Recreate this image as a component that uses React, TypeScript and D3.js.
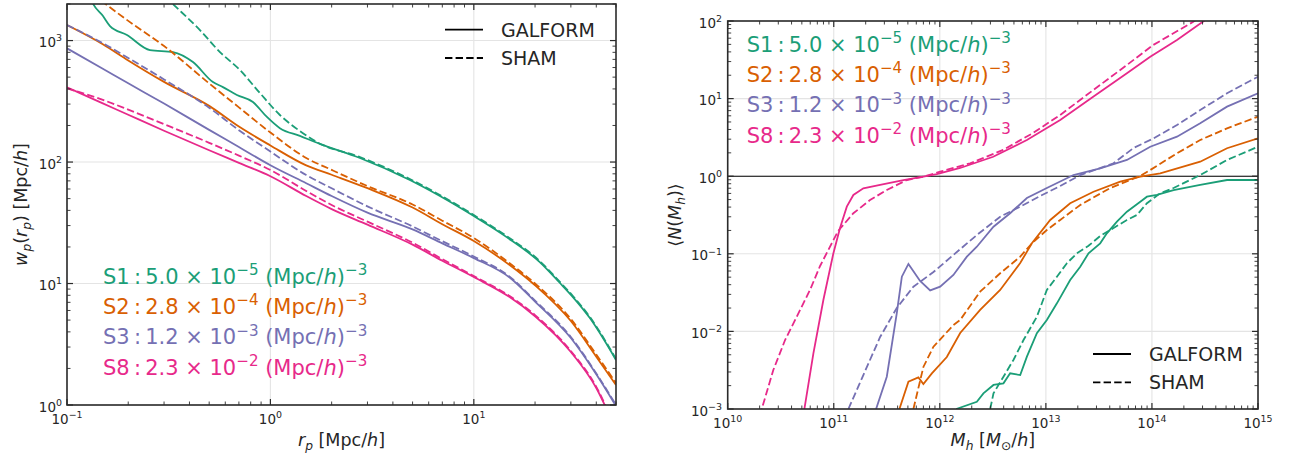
import React from "react";
import * as d3 from "d3";

// ---------------- Left panel: w_p(r_p) ----------------
const rp = [0.1, 0.15, 0.2, 0.3, 0.5, 0.7, 1, 1.5, 2, 3, 5, 7, 10, 15, 20, 30, 40, 50];
const wpS2Galform = [1342, 933, 686, 457, 290, 196, 137, 93.9, 78.6, 60.9, 42.2, 30.8, 22.4, 14.2, 9.67, 4.91, 2.5, 1.46];
const wpS2Sham = [3446, 2078, 1452, 901, 444, 282, 175, 108, 86.2, 63.4, 44.7, 32.9, 23.7, 14.7, 10.0, 5.1, 2.6, 1.52];
const wpS3Galform = [863, 586, 445, 303, 184, 133, 94.1, 66.9, 52.5, 38.3, 27.9, 21.4, 16.2, 11.2, 7.1, 3.56, 1.79, 0.98];
const wpS3Sham = [1342, 952, 719, 479, 280, 183, 122, 78.2, 60.8, 43.2, 29.5, 22.3, 16.7, 11.4, 7.23, 3.63, 1.82, 1.0];
const wpS8Galform = [412, 304, 245, 181, 125, 98.5, 76.4, 52.5, 41.0, 30.5, 20.9, 15.4, 11.3, 7.73, 5.38, 2.73, 1.38, 0.62];
const wpS8Sham = [404, 325, 270, 205, 144, 113, 86, 57.8, 44.3, 32.3, 21.7, 15.9, 11.5, 7.9, 5.5, 2.78, 1.41, 0.63];

const rpS1Galform = [0.1297, 0.1346, 0.1503, 0.1627, 0.1972, 0.2558, 0.3319, 0.4161, 0.5218, 0.5843, 0.6844, 0.8204, 0.9612, 1.113, 1.396, 1.751, 2.754, 4.846, 6.81, 10.0, 14.5, 21.1, 26.5, 30.7, 37.2, 50];
const wpS1Galform = [2280, 1995, 1591, 1316, 1110, 835, 804, 665, 455, 414, 356, 312, 235, 190, 164, 141, 108, 71.1, 52.5, 35.9, 24.1, 15.0, 10.1, 7.74, 5.2, 2.35];
const rpS1Sham = [0.2558, 0.3319, 0.4503, 0.5648, 0.7081, 0.888, 1.113, 1.396, 1.692, 2.754, 4.846, 6.81, 10.0, 14.5, 21.1, 26.5, 30.7, 37.2, 50];
const wpS1Sham = [3030, 1995, 1219, 804, 572, 370, 244, 180, 146, 110, 72.5, 53.5, 36.6, 24.6, 15.3, 10.3, 7.89, 5.3, 2.39];

// ---------------- Right panel: <N(M_h)> ----------------
const logMhS1Galform = [12.154, 12.349, 12.411, 12.506, 12.6, 12.663, 12.758, 12.821, 12.915, 13.009, 13.104, 13.229, 13.324, 13.402, 13.512, 13.575, 13.67, 13.764, 13.89, 13.953, 14.047, 14.204, 14.455, 14.708, 15.0];
const nS1Galform = [0.001, 0.00124, 0.00159, 0.00204, 0.00214, 0.00288, 0.00274, 0.00472, 0.00946, 0.01403, 0.023, 0.0459, 0.0682, 0.1014, 0.1365, 0.1837, 0.2594, 0.3491, 0.4688, 0.5445, 0.5728, 0.6637, 0.7709, 0.8933, 0.8933];
const logMhS1Sham = [12.475, 12.506, 12.6, 12.694, 12.789, 12.915, 13.009, 13.104, 13.198, 13.292, 13.399, 13.512, 13.638, 13.764, 13.858, 13.953, 14.078, 14.204, 14.455, 14.708, 15.0];
const nS1Sham = [0.001, 0.00159, 0.00261, 0.00428, 0.00774, 0.01545, 0.0342, 0.0507, 0.0755, 0.1014, 0.1259, 0.1694, 0.2148, 0.273, 0.3162, 0.4477, 0.6026, 0.7047, 1.035, 1.618, 2.399];

const logMhS2Galform = [11.619, 11.704, 11.798, 11.845, 11.925, 12.066, 12.192, 12.38, 12.569, 12.758, 12.868, 13.041, 13.229, 13.449, 13.701, 13.89, 14.078, 14.455, 14.708, 15.0];
const nS2Galform = [0.001, 0.00225, 0.00255, 0.0021, 0.00288, 0.00468, 0.00953, 0.0189, 0.0342, 0.076, 0.1365, 0.273, 0.448, 0.631, 0.849, 0.986, 1.089, 1.538, 2.291, 3.076];
const logMhS2Sham = [11.751, 11.845, 11.94, 12.128, 12.192, 12.38, 12.569, 12.758, 12.868, 13.009, 13.135, 13.324, 13.607, 13.89, 13.984, 14.236, 14.455, 14.708, 15.0];
const nS2Sham = [0.001, 0.00348, 0.00635, 0.01208, 0.01403, 0.0325, 0.0561, 0.0918, 0.1365, 0.2028, 0.273, 0.4256, 0.7047, 1.007, 1.202, 1.972, 2.924, 4.14, 5.848];

const logMhS3Galform = [11.399, 11.5, 11.594, 11.642, 11.704, 11.814, 11.909, 12.003, 12.128, 12.255, 12.349, 12.506, 12.663, 12.821, 13.009, 13.26, 13.512, 13.764, 13.984, 14.236, 14.455, 14.708, 15.0];
const nS3Galform = [0.001, 0.00261, 0.0171, 0.0507, 0.074, 0.0446, 0.0337, 0.0377, 0.0533, 0.0918, 0.1233, 0.2234, 0.333, 0.524, 0.705, 1.035, 1.265, 1.618, 2.4, 3.23, 4.81, 7.87, 11.7];
const logMhS3Sham = [11.138, 11.279, 11.437, 11.594, 11.751, 11.94, 12.128, 12.349, 12.569, 12.758, 12.946, 13.135, 13.324, 13.638, 13.826, 14.015, 14.236, 14.455, 14.708, 15.0];
const nS3Sham = [0.001, 0.00274, 0.00847, 0.02, 0.0377, 0.0582, 0.0966, 0.1746, 0.3006, 0.4046, 0.556, 0.748, 1.035, 1.466, 2.307, 3.076, 4.571, 7.129, 11.7, 19.14];

const logMhS8Galform = [10.70, 10.723, 10.808, 10.902, 10.996, 11.059, 11.123, 11.185, 11.279, 11.437, 11.657, 11.845, 11.972, 12.192, 12.503, 12.821, 13.135, 13.446, 13.764, 13.984, 14.236, 14.503];
const nS8Galform = [0.0005, 0.001, 0.00522, 0.0254, 0.101, 0.215, 0.405, 0.573, 0.698, 0.771, 0.893, 0.986, 1.067, 1.276, 1.782, 2.93, 5.3, 10.57, 21.2, 34.7, 56.9, 103];
const logMhS8Sham = [10.29, 10.321, 10.43, 10.541, 10.651, 10.776, 10.871, 11.041, 11.185, 11.342, 11.5, 11.689, 11.845, 12.003, 12.286, 12.597, 12.88, 13.135, 13.447, 13.764, 14.012, 14.39, 14.45];
const nS8Sham = [0.0006, 0.001, 0.00318, 0.00774, 0.01545, 0.0342, 0.0697, 0.197, 0.333, 0.493, 0.664, 0.893, 0.986, 1.143, 1.466, 2.18, 3.61, 6.15, 12.9, 27.1, 49.1, 97.7, 112];

// ---------------- Labels ----------------
const sampleNames = ["S1", "S2", "S3", "S8"];
const sampleDensity = ["5.0", "2.8", "1.2", "2.3"];
const sampleExponent = ["−5", "−4", "−3", "−2"];
const legendNames = ["GALFORM", "SHAM"];

const COLORS = ["#1b9e77", "#d95f02", "#7570b3", "#e7298a"];
const FONT = "'DejaVu Sans', sans-serif";
const AXIS = "#2b2b2b";
const GRID = "#e4e4e4";
const DASH = "7.4,3.2";
const LW = 1.8;

const L = { left: 67, right: 616, top: 4, bottom: 405 };
const R = { left: 727.7, right: 1258, top: 21, bottom: 409 };

type Seg = { t: string; it?: boolean; sup?: boolean; sub?: boolean };

function MathText(props: {
  x: number; y: number; segs: Seg[]; size: number; fill?: string;
  anchor?: string; transform?: string; supScale?: number;
}) {
  const { x, y, segs, size, fill = "#262626", anchor = "start", transform, supScale = 0.7 } = props;
  let level = 0;
  return (
    <text x={x} y={y} fontSize={size} fill={fill} textAnchor={anchor} transform={transform}
      fontFamily={FONT} style={{ whiteSpace: "pre" }}>
      {segs.map((s, i) => {
        const target = s.sup ? -0.42 * size : s.sub ? 0.22 * size : 0;
        const dy = target - level;
        level = target;
        return (
          <tspan key={i} dy={dy} fontSize={s.sup || s.sub ? size * supScale : size}
            fontStyle={s.it ? "italic" : "normal"}>{s.t}</tspan>
        );
      })}
    </text>
  );
}

function expLabel(v: number) {
  const e = Math.round(Math.log10(v));
  return e < 0 ? "−" + String(-e) : String(e);
}

function logTicks(domain: [number, number]) {
  const [a, b] = domain;
  const major: number[] = [];
  const minor: number[] = [];
  for (let e = Math.floor(Math.log10(a)) - 1; e <= Math.ceil(Math.log10(b)); e++) {
    for (let k = 1; k <= 9; k++) {
      const v = k * Math.pow(10, e);
      if (v >= a * 0.9999 && v <= b * 1.0001) (k === 1 ? major : minor).push(v);
    }
  }
  return { major, minor };
}

function Frame(props: {
  box: { left: number; right: number; top: number; bottom: number };
  xs: d3.ScaleLogarithmic<number, number>; ys: d3.ScaleLogarithmic<number, number>;
  xLabelY: number; yLabelRight: number;
}) {
  const { box, xs, ys, xLabelY, yLabelRight } = props;
  const xt = logTicks(xs.domain() as [number, number]);
  const yt = logTicks(ys.domain() as [number, number]);
  const maj = 6, mnr = 3.5;
  const tickEls: JSX.Element[] = [];
  xt.major.forEach((v, i) => {
    const x = xs(v);
    tickEls.push(<line key={"xb" + i} x1={x} x2={x} y1={box.bottom} y2={box.bottom - maj} stroke={AXIS} strokeWidth={1.2} />);
    tickEls.push(<line key={"xt" + i} x1={x} x2={x} y1={box.top} y2={box.top + maj} stroke={AXIS} strokeWidth={1.2} />);
  });
  xt.minor.forEach((v, i) => {
    const x = xs(v);
    tickEls.push(<line key={"xbm" + i} x1={x} x2={x} y1={box.bottom} y2={box.bottom - mnr} stroke={AXIS} strokeWidth={0.9} />);
    tickEls.push(<line key={"xtm" + i} x1={x} x2={x} y1={box.top} y2={box.top + mnr} stroke={AXIS} strokeWidth={0.9} />);
  });
  yt.major.forEach((v, i) => {
    const y = ys(v);
    tickEls.push(<line key={"yl" + i} x1={box.left} x2={box.left + maj} y1={y} y2={y} stroke={AXIS} strokeWidth={1.2} />);
    tickEls.push(<line key={"yr" + i} x1={box.right} x2={box.right - maj} y1={y} y2={y} stroke={AXIS} strokeWidth={1.2} />);
  });
  yt.minor.forEach((v, i) => {
    const y = ys(v);
    tickEls.push(<line key={"ylm" + i} x1={box.left} x2={box.left + mnr} y1={y} y2={y} stroke={AXIS} strokeWidth={0.9} />);
    tickEls.push(<line key={"yrm" + i} x1={box.right} x2={box.right - mnr} y1={y} y2={y} stroke={AXIS} strokeWidth={0.9} />);
  });
  return (
    <g>
      {tickEls}
      <rect x={box.left} y={box.top} width={box.right - box.left} height={box.bottom - box.top}
        fill="none" stroke={AXIS} strokeWidth={1.6} />
      {xt.major.map((v, i) => (
        <MathText key={"xl" + i} x={xs(v)} y={xLabelY} size={13.5} anchor="middle"
          segs={[{ t: "10" }, { t: expLabel(v), sup: true }]} />
      ))}
      {yt.major.map((v, i) => (
        <MathText key={"yl" + i} x={yLabelRight} y={ys(v) + 6.5} size={13.5} anchor="end"
          segs={[{ t: "10" }, { t: expLabel(v), sup: true }]} />
      ))}
    </g>
  );
}

function Grid(props: {
  box: { left: number; right: number; top: number; bottom: number };
  xs: d3.ScaleLogarithmic<number, number>; ys: d3.ScaleLogarithmic<number, number>;
}) {
  const { box, xs, ys } = props;
  const xt = logTicks(xs.domain() as [number, number]).major;
  const yt = logTicks(ys.domain() as [number, number]).major;
  return (
    <g>
      {xt.map((v, i) => <line key={"gx" + i} x1={xs(v)} x2={xs(v)} y1={box.top} y2={box.bottom} stroke={GRID} strokeWidth={1.1} />)}
      {yt.map((v, i) => <line key={"gy" + i} x1={box.left} x2={box.right} y1={ys(v)} y2={ys(v)} stroke={GRID} strokeWidth={1.1} />)}
    </g>
  );
}

function Legend(props: { x: number; y: number }) {
  const { x, y } = props;
  return (
    <g>
      {legendNames.map((name, i) => (
        <g key={name}>
          <line x1={x} x2={x + 38} y1={y + i * 28.3} y2={y + i * 28.3} stroke="#000" strokeWidth={LW}
            strokeDasharray={i === 1 ? DASH : undefined} />
          <text x={x + 56} y={y + i * 28.3 + 7} fontSize={19} fontFamily={FONT} fill="#262626">{name}</text>
        </g>
      ))}
    </g>
  );
}

function SampleLabels(props: { x: number; y: number }) {
  const { x, y } = props;
  return (
    <g>
      {sampleNames.map((s, i) => (
        <MathText key={s} x={x} y={y + i * 30.2} size={21} fill={COLORS[i]} supScale={0.72}
          segs={[
            { t: s + "\u2009:\u2009" + sampleDensity[i] + " × 10" },
            { t: sampleExponent[i], sup: true },
            { t: " (Mpc/" },
            { t: "h", it: true },
            { t: ")" },
            { t: "−3", sup: true },
          ]} />
      ))}
    </g>
  );
}

export default function App() {
  const xsL = d3.scaleLog().domain([0.1, 50]).range([L.left, L.right]);
  const ysL = d3.scaleLog().domain([1, 2000]).range([L.bottom, L.top]);
  const xsR = d3.scaleLog().domain([1e10, 1e15]).range([R.left, R.right]);
  const ysR = d3.scaleLog().domain([1e-3, 1e2]).range([R.bottom, R.top]);

  const lineL = d3.line<[number, number]>().x(d => xsL(d[0])).y(d => ysL(d[1])).curve(d3.curveMonotoneX);
  const lineR = d3.line<[number, number]>().x(d => xsR(Math.pow(10, d[0]))).y(d => ysR(d[1])).curve(d3.curveLinear);

  const zip = (a: number[], b: number[]) => a.map((v, i) => [v, b[i]] as [number, number]);

  const leftSeries = [
    { g: zip(rpS1Galform, wpS1Galform), s: zip(rpS1Sham, wpS1Sham) },
    { g: zip(rp, wpS2Galform), s: zip(rp, wpS2Sham) },
    { g: zip(rp, wpS3Galform), s: zip(rp, wpS3Sham) },
    { g: zip(rp, wpS8Galform), s: zip(rp, wpS8Sham) },
  ];
  const rightSeries = [
    { g: zip(logMhS1Galform, nS1Galform), s: zip(logMhS1Sham, nS1Sham) },
    { g: zip(logMhS2Galform, nS2Galform), s: zip(logMhS2Sham, nS2Sham) },
    { g: zip(logMhS3Galform, nS3Galform), s: zip(logMhS3Sham, nS3Sham) },
    { g: zip(logMhS8Galform, nS8Galform), s: zip(logMhS8Sham, nS8Sham) },
  ];

  return (
    <svg width={1291} height={460} style={{ position: "absolute", left: 0, top: 0, background: "#fff" }}>
      <defs>
        <clipPath id="clipL"><rect x={L.left} y={L.top} width={L.right - L.left} height={L.bottom - L.top} /></clipPath>
        <clipPath id="clipR"><rect x={R.left} y={R.top} width={R.right - R.left} height={R.bottom - R.top} /></clipPath>
      </defs>
      <rect x={0} y={0} width={1291} height={460} fill="#fff" />

      {/* Left panel */}
      <Grid box={L} xs={xsL} ys={ysL} />
      <g clipPath="url(#clipL)">
        {leftSeries.map((s, i) => (
          <g key={i}>
            <path d={lineL(s.g) || ""} fill="none" stroke={COLORS[i]} strokeWidth={LW} />
            <path d={lineL(s.s) || ""} fill="none" stroke={COLORS[i]} strokeWidth={LW} strokeDasharray={DASH} />
          </g>
        ))}
      </g>
      <Frame box={L} xs={xsL} ys={ysL} xLabelY={424} yLabelRight={62} />
      <Legend x={445} y={29.7} />
      <SampleLabels x={103} y={284} />
      <MathText x={(L.left + L.right) / 2} y={446} size={17.5} anchor="middle"
        segs={[{ t: "r", it: true }, { t: "p", it: true, sub: true }, { t: " [Mpc/" }, { t: "h", it: true }, { t: "]" }]} />
      <MathText x={0} y={0} size={17.5} anchor="middle" transform={`translate(27,${(L.top + L.bottom) / 2}) rotate(-90)`}
        segs={[{ t: "w", it: true }, { t: "p", it: true, sub: true }, { t: "(" }, { t: "r", it: true }, { t: "p", it: true, sub: true }, { t: ")" }, { t: " [Mpc/" }, { t: "h", it: true }, { t: "]" }]} />

      {/* Right panel */}
      <Grid box={R} xs={xsR} ys={ysR} />
      <line x1={R.left} x2={R.right} y1={ysR(1)} y2={ysR(1)} stroke="#000" strokeWidth={1.1} />
      <g clipPath="url(#clipR)">
        {rightSeries.map((s, i) => (
          <g key={i}>
            <path d={lineR(s.g) || ""} fill="none" stroke={COLORS[i]} strokeWidth={LW} />
            <path d={lineR(s.s) || ""} fill="none" stroke={COLORS[i]} strokeWidth={LW} strokeDasharray={DASH} />
          </g>
        ))}
      </g>
      <Frame box={R} xs={xsR} ys={ysR} xLabelY={428} yLabelRight={722} />
      <Legend x={1093} y={354} />
      <SampleLabels x={746.7} y={52} />
      <MathText x={(R.left + R.right) / 2} y={446} size={17.5} anchor="middle"
        segs={[{ t: "M", it: true }, { t: "h", it: true, sub: true }, { t: " [" }, { t: "M", it: true }, { t: "⊙", sub: true }, { t: "/" }, { t: "h", it: true }, { t: "]" }]} />
      <MathText x={0} y={0} size={17.5} anchor="middle" transform={`translate(681,${(R.top + R.bottom) / 2}) rotate(-90)`}
        segs={[{ t: "⟨" }, { t: "N", it: true }, { t: "(" }, { t: "M", it: true }, { t: "h", it: true, sub: true }, { t: ")⟩" }]} />
    </svg>
  );
}
